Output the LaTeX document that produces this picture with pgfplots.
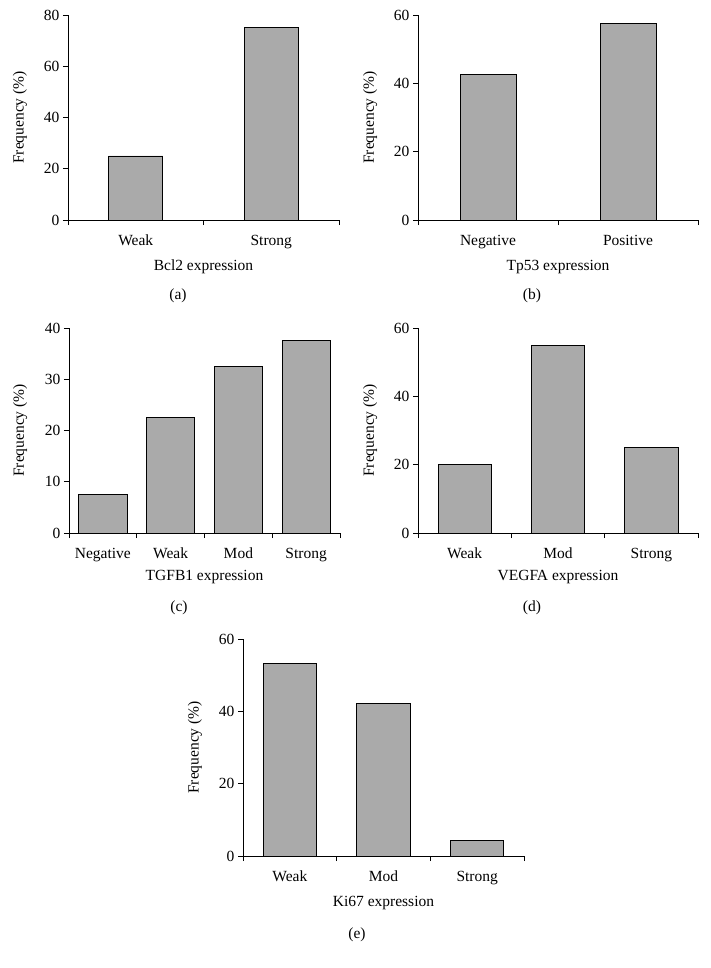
\documentclass[border=0pt]{standalone}
\usepackage{pgfplots}
\pgfplotsset{compat=1.18}
\usepackage{fontspec}
\setmainfont{Liberation Serif}
\definecolor{barfill}{RGB}{170,170,170}
\newcommand{\fs}{\fontsize{15.5}{18}\selectfont}
\pgfplotsset{
  panel/.style={
    scale only axis,
    anchor=south west,
    axis lines*=left,
    ymin=0,
    tick align=outside,
    major tick length=5pt,
    minor tick length=5pt,
    axis line style={black, line width=0.8pt},
    ytick style={black, line width=0.8pt},
    major x tick style={draw=none},
    minor x tick style={black, line width=0.8pt},
    tick label style={font=\fs},
    label style={font=\fs},
    xticklabel style={anchor=base, yshift=-20pt},
    ylabel={Frequency (\%)},
    /pgf/number format/assume math mode=true,
  },
  bars/.style={ybar, bar width=#1, fill=barfill, draw=black, line width=0.8pt},
}
\begin{document}
\begin{tikzpicture}
\useasboundingbox (0,0) rectangle (710pt,-968pt);
% (a)
\begin{axis}[panel, at={(68pt,-220pt)}, width=271pt, height=205pt,
  xmin=-0.5, xmax=1.5, ymax=80, ytick={0,20,40,60,80},
  xtick={0,1}, xticklabels={Weak,Strong}, minor xtick={-0.5,0.5,1.5},
  xlabel={Bcl2 expression},
  xlabel style={at={(axis description cs:0.5,-0.229)}, anchor=center},
  ylabel style={at={(axis description cs:-0.177,0.5)}, anchor=center}]
\addplot[bars=0.4] coordinates {(0,25) (1,75)};
\end{axis}
% (b)
\begin{axis}[panel, at={(418pt,-220pt)}, width=280pt, height=205pt,
  xmin=-0.5, xmax=1.5, ymax=60, ytick={0,20,40,60},
  xtick={0,1}, xticklabels={Negative,Positive}, minor xtick={-0.5,0.5,1.5},
  xlabel={Tp53 expression},
  xlabel style={at={(axis description cs:0.5,-0.229)}, anchor=center},
  ylabel style={at={(axis description cs:-0.171,0.5)}, anchor=center}]
\addplot[bars=0.4] coordinates {(0,42.5) (1,57.5)};
\end{axis}
% (c)
\begin{axis}[panel, at={(69pt,-533pt)}, width=271pt, height=205pt,
  xmin=-0.5, xmax=3.5, ymax=40, ytick={0,10,20,30,40},
  xtick={0,1,2,3}, xticklabels={Negative,Weak,Mod,Strong}, minor xtick={-0.5,0.5,1.5,2.5,3.5},
  xlabel={TGFB1 expression},
  xlabel style={at={(axis description cs:0.5,-0.215)}, anchor=center},
  ylabel style={at={(axis description cs:-0.18,0.5)}, anchor=center}]
\addplot[bars=0.71] coordinates {(0,7.5) (1,22.5) (2,32.5) (3,37.5)};
\end{axis}
% (d)
\begin{axis}[panel, at={(418pt,-533pt)}, width=280pt, height=205pt,
  xmin=-0.5, xmax=2.5, ymax=60, ytick={0,20,40,60},
  xtick={0,1,2}, xticklabels={Weak,Mod,Strong}, minor xtick={-0.5,0.5,1.5,2.5},
  xlabel={VEGFA expression},
  xlabel style={at={(axis description cs:0.5,-0.215)}, anchor=center},
  ylabel style={at={(axis description cs:-0.171,0.5)}, anchor=center}]
\addplot[bars=0.57] coordinates {(0,20) (1,55) (2,25)};
\end{axis}
% (e)
\begin{axis}[panel, at={(243pt,-856pt)}, width=281pt, height=217pt,
  xmin=-0.5, xmax=2.5, ymax=60, ytick={0,20,40,60},
  xtick={0,1,2}, xticklabels={Weak,Mod,Strong}, minor xtick={-0.5,0.5,1.5,2.5},
  xlabel={Ki67 expression},
  xlabel style={at={(axis description cs:0.5,-0.217)}, anchor=center},
  ylabel style={at={(axis description cs:-0.171,0.5)}, anchor=center}]
\addplot[bars=0.57] coordinates {(0,53.3) (1,42.2) (2,4.4)};
\end{axis}
\node[font=\fs] at (178pt,-296pt) {(a)};
\node[font=\fs] at (532pt,-296pt) {(b)};
\node[font=\fs] at (179pt,-608pt) {(c)};
\node[font=\fs] at (532pt,-608pt) {(d)};
\node[font=\fs] at (357pt,-935pt) {(e)};
\end{tikzpicture}
\end{document}
